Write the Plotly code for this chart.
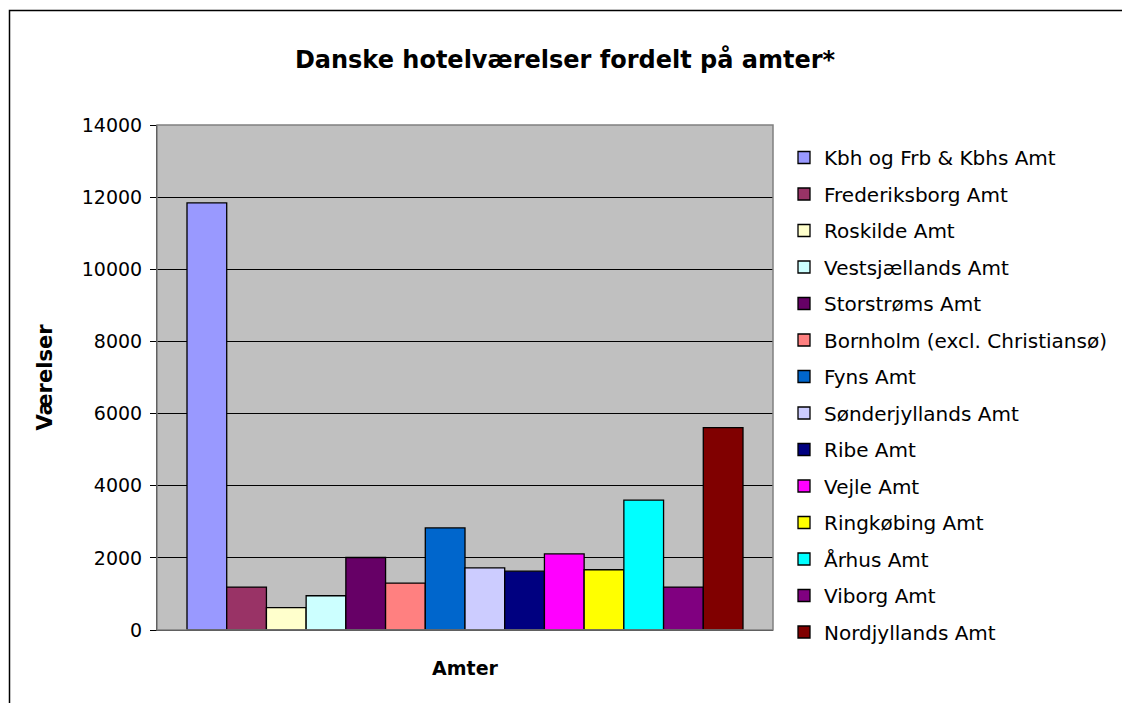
import plotly.graph_objects as go

# Data
amter = [
    "Kbh og Frb & Kbhs Amt", "Frederiksborg Amt", "Roskilde Amt", "Vestsjællands Amt",
    "Storstrøms Amt", "Bornholm (excl. Christiansø)", "Fyns Amt", "Sønderjyllands Amt",
    "Ribe Amt", "Vejle Amt", "Ringkøbing Amt", "Århus Amt", "Viborg Amt", "Nordjyllands Amt",
]
vaerelser = [11840, 1190, 620, 950, 2010, 1300, 2830, 1720, 1630, 2110, 1670, 3600, 1190, 5610]
farver = [
    "#9999FF", "#993366", "#FFFFCC", "#CCFFFF", "#660066", "#FF8080", "#0066CC",
    "#CCCCFF", "#000080", "#FF00FF", "#FFFF00", "#00FFFF", "#800080", "#800000",
]
kategori = "Amter"
y_ticks = [0, 2000, 4000, 6000, 8000, 10000, 12000, 14000]

# page layout (browser body margin of 8px is compensated)
OFF = 8
PAGE_W, PAGE_H = 1130, 703
W, H = PAGE_W - OFF, PAGE_H - OFF
L, R, T, B = 157, 773, 125, 630  # plot area, page pixels

def px(x):
    return (x - L) / (R - L)

def py(y):
    return (B - y) / (B - T)

FONT = "DejaVu Sans"

fig = go.Figure()
for i, (navn, v, c) in enumerate(zip(amter, vaerelser, farver)):
    fig.add_trace(go.Bar(
        x=[kategori], y=[v], name=navn, legendgroup=f"g{i:02d}",
        marker=dict(color=c, line=dict(color="black", width=1.3)),
    ))

fig.update_layout(
    width=W, height=H,
    margin=dict(l=L - OFF, r=PAGE_W - R, t=T - OFF, b=PAGE_H - B, autoexpand=False),
    paper_bgcolor="white",
    plot_bgcolor="#C0C0C0",
    barmode="group",
    bargap=0.0974,
    bargroupgap=0,
    font=dict(family=FONT, color="black", size=19),
    title=dict(
        text="<b>Danske hotelværelser fordelt på amter*</b>",
        x=(565 - OFF) / W, xref="container", xanchor="center",
        y=1 - (60 - OFF) / H, yref="container", yanchor="middle",
        font=dict(family=FONT, size=24, color="black"),
    ),
    xaxis=dict(
        showticklabels=False, ticks="", showgrid=False,
        showline=True, linecolor="black", linewidth=1,
        title=dict(text="<b>Amter</b>", font=dict(family=FONT, size=19), standoff=31),
        range=[-0.5, 0.5],
    ),
    yaxis=dict(
        range=[0, 14000], tickvals=y_ticks, ticktext=[str(t) for t in y_ticks],
        ticks="outside", ticklen=6, tickcolor="black", tickwidth=1,
        showline=True, linecolor="black", linewidth=1,
        showgrid=True, gridcolor="black", gridwidth=1,
        zeroline=False,
        tickfont=dict(family=FONT, size=19),
        ticklabelstandoff=4,
        title=dict(text="<b>Værelser</b>", font=dict(family=FONT, size=21), standoff=23),
    ),
    legend=dict(
        x=px(784), xanchor="left",
        y=py(138), yanchor="top",
        bgcolor="rgba(0,0,0,0)",
        font=dict(family=FONT, size=20, color="black"),
        tracegroupgap=7.5,
        traceorder="grouped",
        maxheight=680,
    ),
    showlegend=True,
)

# plot area border (grey) and outer chart border
fig.add_shape(type="rect", xref="paper", yref="paper", x0=0, y0=0, x1=1, y1=1,
              line=dict(color="#808080", width=1.5), layer="above")
fig.add_shape(type="rect", xref="paper", yref="paper",
              x0=px(9.5), y0=py(760), x1=px(1180), y1=py(10.5),
              line=dict(color="black", width=1.5))

fig.write_html("out.html")
